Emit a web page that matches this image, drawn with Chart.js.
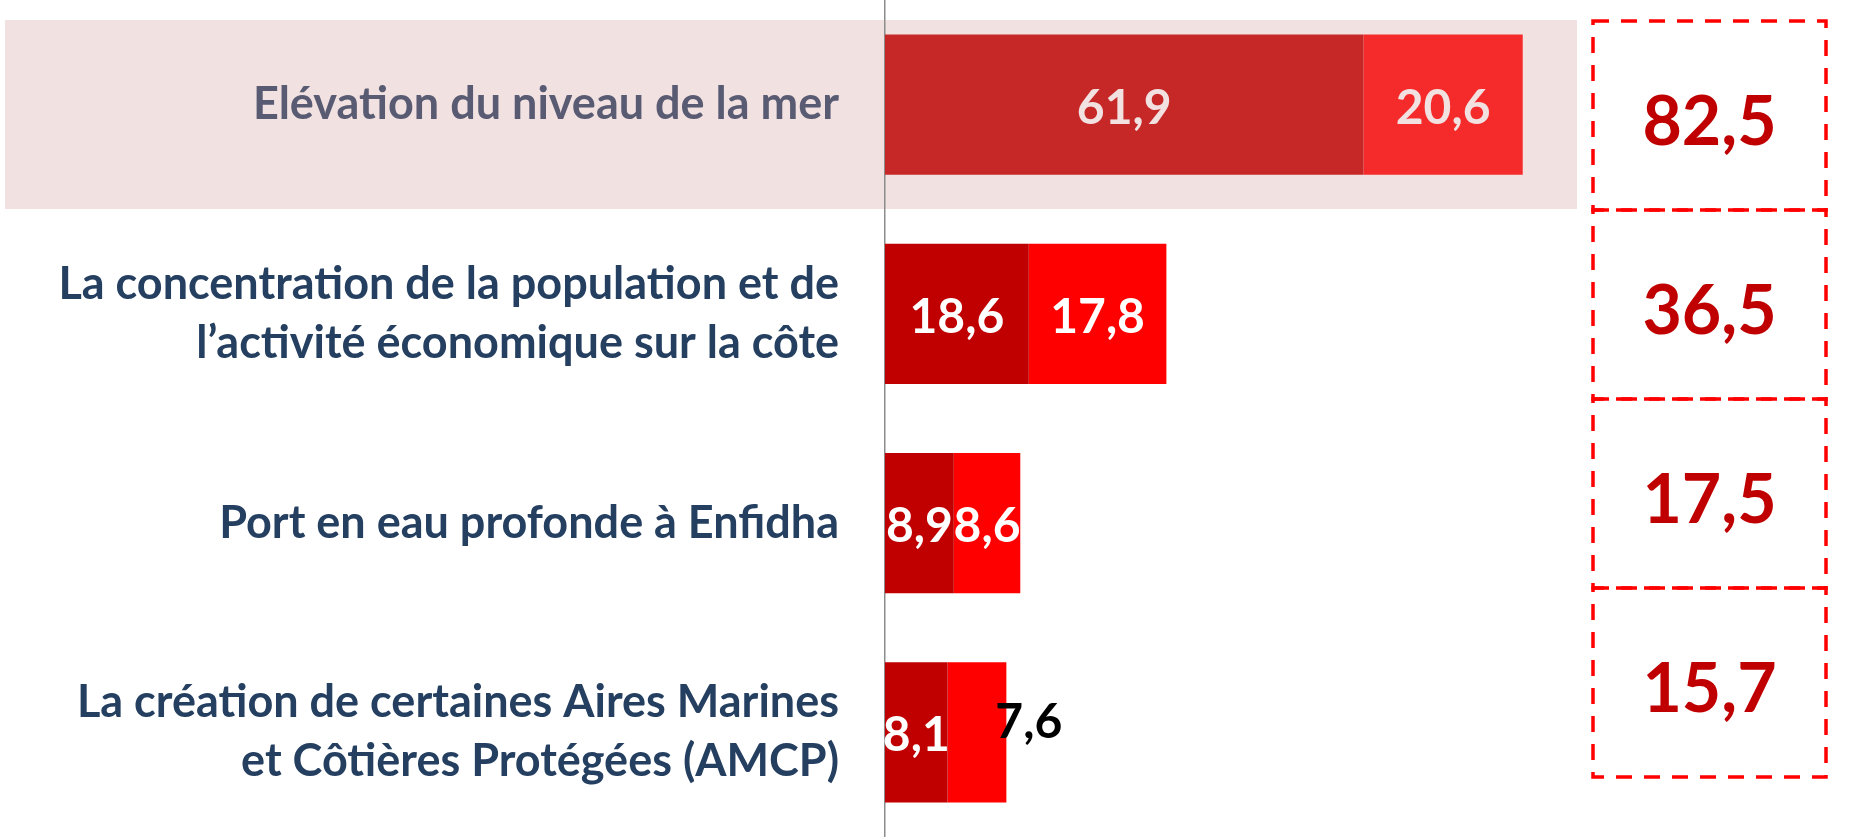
<!DOCTYPE html>
<html>
<head>
<meta charset="utf-8">
<script src="https://cdn.jsdelivr.net/npm/chart.js@4"></script>
<style>
  html, body { margin: 0; padding: 0; background: #fff; }
  #wrap { width: 1865px; height: 837px; }
</style>
</head>
<body>
<div id="wrap"><canvas id="chart"></canvas></div>
<script>
const categories = [
  'Elévation du niveau de la mer',
  ['La concentration de la population et de', 'l’activité économique sur la côte'],
  'Port en eau profonde à Enfidha',
  ['La création de certaines Aires Marines', 'et Côtières Protégées (AMCP)']
];
const partA = [61.9, 18.6, 8.9, 8.1];
const partB = [20.6, 17.8, 8.6, 7.6];
const totals = [82.5, 36.5, 17.5, 15.7];

const fmt = v => v.toFixed(1).replace('.', ',');

// band behind the first row + dashed total boxes on the right
const decor = {
  id: 'decor',
  beforeDraw(chart) {
    const ctx = chart.ctx;
    ctx.save();
    ctx.fillStyle = '#F2E1E1';
    ctx.fillRect(5, 20, 1572, 189);
    ctx.restore();
  },
  afterDatasetsDraw(chart) {
    const ctx = chart.ctx;
    ctx.save();
    ctx.font = 'bold 48px Lato';
    ctx.textBaseline = 'alphabetic';
    chart.data.datasets.forEach((ds, i) => {
      const meta = chart.getDatasetMeta(i);
      meta.data.forEach((bar, j) => {
        const txt = fmt(ds.data[j]);
        const w = ctx.measureText(txt).width;
        const seg = Math.abs(bar.x - bar.base);
        if (i === 1 && w > seg + 5) {
          // too narrow: label pushed just past the bar end
          ctx.fillStyle = '#000';
          ctx.textAlign = 'left';
          ctx.fillText(txt, bar.x - 11, bar.y + 6);
        } else {
          ctx.fillStyle = j === 0 ? '#F2E1E1' : '#fff';
          ctx.textAlign = 'center';
          ctx.fillText(txt, (bar.x + bar.base) / 2, bar.y + 19);
        }
      });
    });

    const left = 1593, right = 1826, top = 21, rowH = 189;
    ctx.strokeStyle = '#FF0000';
    ctx.lineWidth = 3.5;
    ctx.setLineDash([16, 12]);
    ctx.font = 'bold 68px Lato';
    ctx.textAlign = 'center';
    ctx.fillStyle = '#C00000';
    totals.forEach((t, k) => {
      const y0 = top + k * rowH;
      ctx.strokeRect(left, y0, right - left, rowH);
      ctx.fillText(fmt(t), (left + right) / 2, y0 + rowH / 2 + 29);
    });
    ctx.restore();
  }
};

new Chart(document.getElementById('chart'), {
  type: 'bar',
  data: {
    labels: categories,
    datasets: [
      {
        label: 'A',
        data: partA,
        backgroundColor: ['#C62828', '#C00000', '#C00000', '#C00000'],
        borderWidth: 0
      },
      {
        label: 'B',
        data: partB,
        backgroundColor: ['#F52A2A', '#FF0000', '#FF0000', '#FF0000'],
        borderWidth: 0
      }
    ]
  },
  options: {
    indexAxis: 'y',
    responsive: true,
    maintainAspectRatio: false,
    animation: false,
    devicePixelRatio: 1,
    layout: { padding: { left: 0, right: 207, top: 0, bottom: 0 } },
    datasets: { bar: { categoryPercentage: 1, barPercentage: 0.67 } },
    plugins: {
      legend: { display: false },
      tooltip: { enabled: false },
      title: { display: false }
    },
    scales: {
      x: {
        stacked: true,
        display: false,
        min: 0,
        max: 100
      },
      y: {
        stacked: true,
        grid: { display: false, drawTicks: false },
        border: { display: true, color: '#8C8C8C', width: 1.5 },
        ticks: {
          padding: 46,
          font: { family: 'Lato', weight: 'bold', size: 45, lineHeight: 1.31 },
          color: c => c.index === 0 ? '#595B73' : '#243F60'
        },
        afterFit: s => {
          s.width = 885;
          s.paddingTop = 0;
          s.paddingBottom = 0;
        }
      }
    }
  },
  plugins: [decor]
});
</script>
</body>
</html>
